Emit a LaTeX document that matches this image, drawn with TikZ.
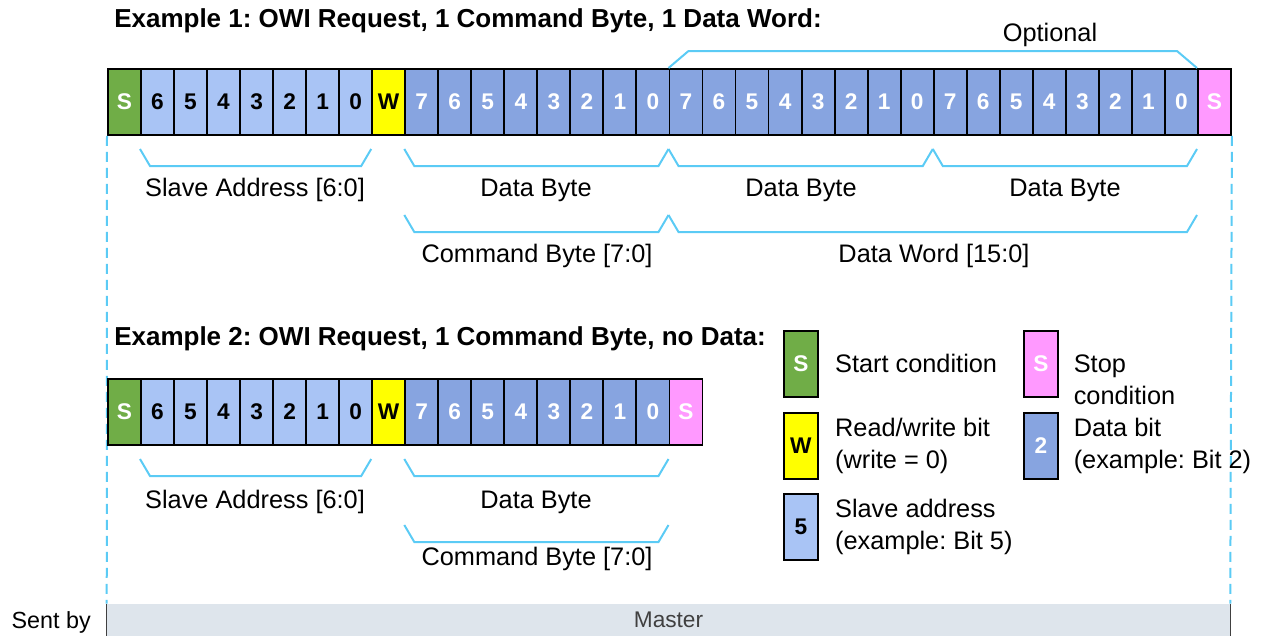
\documentclass[tikz,border=0pt]{standalone}
\usepackage{fontspec}
\setmainfont{Liberation Sans}
\usetikzlibrary{positioning}
\frenchspacing

\definecolor{startgreen}{HTML}{70AD47}
\definecolor{addrblue}{HTML}{A9C4F5}
\definecolor{datablue}{HTML}{87A4E0}
\definecolor{rwyellow}{HTML}{FFFF00}
\definecolor{stoppink}{HTML}{FF99FF}
\definecolor{bracecyan}{HTML}{5BCBF5}
\definecolor{barfill}{HTML}{DEE5EC}
\definecolor{bartext}{HTML}{404040}

% brace under a group of bits: x0, x1, y, depth
\newcommand{\owibrace}[4]{%
  \draw[bracestyle] (#1,#3) -- ({#1+10},{#3+#4}) -- ({#2-10},{#3+#4}) -- (#2,#3);}

\begin{document}
\begin{tikzpicture}[x=0.75pt, y=-0.75pt,
    bitcell/.style={draw, line width=1.4pt, minimum width=24.77pt, minimum height=49.5pt,
      anchor=north west, inner sep=0pt, font=\fontsize{17}{20}\selectfont\bfseries},
    startbit/.style={bitcell, fill=startgreen, text=white},
    addrbit/.style={bitcell, fill=addrblue, text=black},
    rwbit/.style={bitcell, fill=rwyellow, text=black},
    databit/.style={bitcell, fill=datablue, text=white},
    stopbit/.style={bitcell, fill=stoppink, text=white},
    legbox/.style={minimum width=25.5pt},
    bracestyle/.style={draw=bracecyan, line width=1.5pt, line join=miter},
    dashline/.style={draw=bracecyan, line width=1.5pt, dash pattern=on 7.5pt off 4.5pt},
    lbl/.style={font=\fontsize{19}{24}\selectfont, inner sep=0pt, align=left},
    titlelbl/.style={font=\fontsize{19.5}{24}\selectfont\bfseries, inner sep=0pt, anchor=west},
    masterbar/.style={fill=barfill, minimum width=842.25pt, minimum height=24pt, inner sep=0pt,
      text=bartext, font=\fontsize{17}{20}\selectfont}]
  \useasboundingbox (0,0) rectangle (1268,636);

  % sent-by bar
  \node[masterbar] (master) at (668.5,620) {Master};
  \draw[bartext, line width=0.8pt] (master.north west) -- (master.south west)
    (master.north east) -- (master.south east);
  \node[lbl, font=\fontsize{17.5}{20}\selectfont, anchor=east] (sentby) at (91,622) {Sent by};

  % example 1
  \node[titlelbl] (title1) at (114,21) {Example 1: OWI Request, 1 Command Byte, 1 Data Word:};
  \node[startbit] (r1c0) at (107,68) {S};
  \foreach \b [count=\i] in {6,5,4,3,2,1,0}
    \node[addrbit] (r1c\i) at ({107+\i*33.03},68) {\b};
  \node[rwbit] (r1c8) at ({107+8*33.03},68) {W};
  \foreach \k in {0,1,2}
    \foreach \b [count=\j from 0] in {7,6,5,4,3,2,1,0} {
      \pgfmathtruncatemacro{\i}{9+8*\k+\j}
      \node[databit] (r1c\i) at ({107+\i*33.03},68) {\b};
    }
  \node[stopbit] (r1c33) at ({107+33*33.03},68) {S};

  \draw[dashline] (r1c0.south west) -- (master.north west);
  \draw[dashline] (r1c33.south east) -- (master.north east);

  \draw[bracestyle] (668.5,68) -- (688.5,51) -- (1177,51) -- (1197,68);
  \node[lbl] (optional) at (1050,35) {Optional};

  \owibrace{140}{371.2}{149}{17}
  \owibrace{404.3}{668.5}{149}{17}
  \owibrace{668.5}{932.8}{149}{17}
  \owibrace{932.8}{1197}{149}{17}
  \node[lbl] (slave1) at (255,190) {Slave Address [6:0]};
  \node[lbl] (byte1a) at (536,190) {Data Byte};
  \node[lbl] (byte1b) at (801,190) {Data Byte};
  \node[lbl] (byte1c) at (1065,190) {Data Byte};

  \owibrace{404.3}{668.5}{215}{17}
  \owibrace{668.5}{1197}{215}{17}
  \node[lbl] (cmd1) at (537,256) {Command Byte [7:0]};
  \node[lbl] (word1) at (934,256) {Data Word [15:0]};

  % example 2
  \node[titlelbl] (title2) at (114,339) {Example 2: OWI Request, 1 Command Byte, no Data:};
  \node[startbit] (r2c0) at (107,378) {S};
  \foreach \b [count=\i] in {6,5,4,3,2,1,0}
    \node[addrbit] (r2c\i) at ({107+\i*33.03},378) {\b};
  \node[rwbit] (r2c8) at ({107+8*33.03},378) {W};
  \foreach \b [count=\j from 0] in {7,6,5,4,3,2,1,0} {
    \pgfmathtruncatemacro{\i}{9+\j}
    \node[databit] (r2c\i) at ({107+\i*33.03},378) {\b};
  }
  \node[stopbit] (r2c17) at ({107+17*33.03},378) {S};

  \owibrace{140}{371.2}{459}{17}
  \owibrace{404.3}{668.5}{459}{17}
  \owibrace{404.3}{668.5}{525}{17}
  \node[lbl] (slave2) at (255,502) {Slave Address [6:0]};
  \node[lbl] (byte2) at (536,502) {Data Byte};
  \node[lbl] (cmd2) at (537,559) {Command Byte [7:0]};

  % legend
  \node[startbit, legbox] (legstart) at (783,330) {S};
  \node[rwbit, legbox] (legrw) at (783,412) {W};
  \node[addrbit, legbox] (legaddr) at (783,493) {5};
  \node[stopbit, legbox] (legstop) at (1023,330) {S};
  \node[databit, legbox] (legdata) at (1023,412) {2};
  \node[lbl, right=12pt of legstart] (txtstart) {Start condition};
  \node[lbl, right=12pt of legrw] (txtrw) {Read/write bit\\(write = 0)};
  \node[lbl, right=12pt of legaddr] (txtaddr) {Slave address\\(example: Bit 5)};
  \node[lbl, right=11pt of legstop, yshift=-11.6pt] (txtstop) {Stop\\condition};
  \node[lbl, right=11pt of legdata] (txtdata) {Data bit\\(example: Bit 2)};
\end{tikzpicture}
\end{document}
